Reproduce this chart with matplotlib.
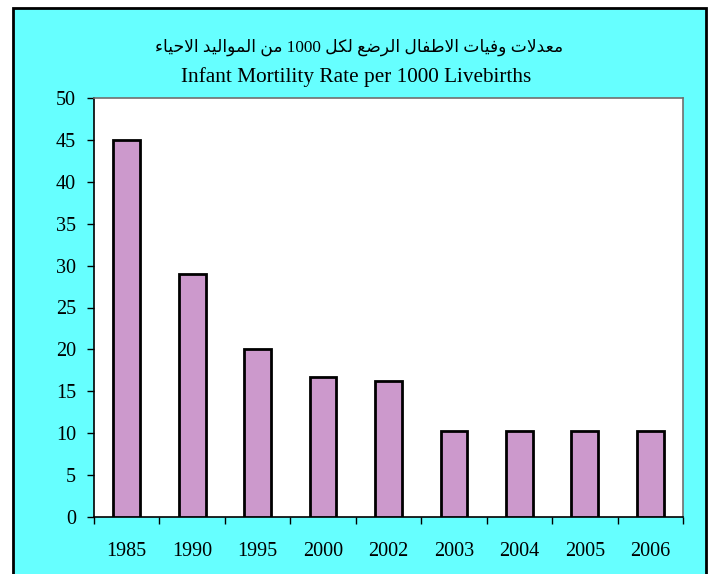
import matplotlib
matplotlib.use("Agg")
import matplotlib.pyplot as plt
from matplotlib.patches import Rectangle
from matplotlib.ticker import FixedLocator, NullFormatter

# ---------------- data ----------------
years = ["1985", "1990", "1995", "2000", "2002", "2003", "2004", "2005", "2006"]
rates = [45.0, 29.0, 20.0, 16.7, 16.2, 10.3, 10.3, 10.3, 10.3]
yticks = [0, 5, 10, 15, 20, 25, 30, 35, 40, 45, 50]
title_ar = "معدلات وفيات الاطفال الرضع لكل 1000 من المواليد الاحياء"
title_en = "Infant Mortility Rate per 1000 Livebirths"

# ------------- minimal Arabic shaping (presentation forms, visual order) -------------
FORMS = {  # isolated, final, initial, medial
    "\u0645": ("\uFEE1", "\uFEE2", "\uFEE3", "\uFEE4"),
    "\u0639": ("\uFEC9", "\uFECA", "\uFECB", "\uFECC"),
    "\u062F": ("\uFEA9", "\uFEAA", None, None),
    "\u0644": ("\uFEDD", "\uFEDE", "\uFEDF", "\uFEE0"),
    "\u0627": ("\uFE8D", "\uFE8E", None, None),
    "\u062A": ("\uFE95", "\uFE96", "\uFE97", "\uFE98"),
    "\u0648": ("\uFEED", "\uFEEE", None, None),
    "\u0641": ("\uFED1", "\uFED2", "\uFED3", "\uFED4"),
    "\u064A": ("\uFEF1", "\uFEF2", "\uFEF3", "\uFEF4"),
    "\u0637": ("\uFEC1", "\uFEC2", "\uFEC3", "\uFEC4"),
    "\u0631": ("\uFEAD", "\uFEAE", None, None),
    "\u0636": ("\uFEBD", "\uFEBE", "\uFEBF", "\uFEC0"),
    "\u0643": ("\uFED9", "\uFEDA", "\uFEDB", "\uFEDC"),
    "\u0646": ("\uFEE5", "\uFEE6", "\uFEE7", "\uFEE8"),
    "\u062D": ("\uFEA1", "\uFEA2", "\uFEA3", "\uFEA4"),
    "\u0621": ("\uFE80", None, None, None),
    "LA": ("\uFEFB", "\uFEFC", None, None),
}


def shape_word(word):
    units = []
    i = 0
    while i < len(word):
        if word[i] == "\u0644" and i + 1 < len(word) and word[i + 1] == "\u0627":
            units.append("LA")
            i += 2
        else:
            units.append(word[i])
            i += 1
    if not all(u in FORMS for u in units):
        return word
    out = []
    for k, u in enumerate(units):
        f = FORMS[u]
        prev_ok = k > 0 and FORMS[units[k - 1]][2] is not None
        next_ok = k + 1 < len(units) and FORMS[units[k + 1]][1] is not None
        can_left = f[2] is not None
        if prev_ok and next_ok and can_left:
            out.append(f[3])
        elif prev_ok and f[1] is not None:
            out.append(f[1])
        elif next_ok and can_left:
            out.append(f[2])
        else:
            out.append(f[0])
    return "".join(reversed(out))


def visual_arabic(text):
    words = text.split(" ")
    shaped = [w if w.isdigit() else shape_word(w) for w in words]
    return " ".join(reversed(shaped))


# ---------------- figure ----------------
W, H = 713, 574
fig = plt.figure(figsize=(W / 100, H / 100), dpi=100)
fig.patch.set_facecolor("white")

bg = Rectangle((13 / W, -0.02), (706 - 13) / W, 1 - 8 / H + 0.02,
               transform=fig.transFigure, facecolor="#66FFFF",
               edgecolor="black", linewidth=2.0, zorder=-10)
fig.add_artist(bg)

ax = fig.add_axes([94 / W, 1 - 517 / H, (683 - 94) / W, (517 - 98) / H])
ax.set_zorder(5)
ax.set_facecolor("white")

x = list(range(len(years)))
ax.bar(x, rates, width=0.41, color="#CC99CC", edgecolor="black",
       linewidth=2.0, zorder=3)

ax.set_xlim(-0.5, len(years) - 0.5)
ax.set_ylim(0, 50)
ax.set_yticks(yticks)

serif = ["Liberation Serif", "DejaVu Serif"]
ax.set_yticklabels([str(v) for v in yticks], fontfamily=serif, fontsize=14.5)
ax.set_xticks(x)
ax.set_xticklabels(years, fontfamily=serif, fontsize=14.5)
ax.xaxis.set_minor_locator(FixedLocator([i - 0.5 for i in range(len(years) + 1)]))
ax.xaxis.set_minor_formatter(NullFormatter())
ax.tick_params(axis="x", which="major", length=0, pad=18, colors="black")
ax.tick_params(axis="x", which="minor", length=5, width=1, direction="out")
ax.tick_params(axis="y", length=5, width=1, direction="out", pad=8)

for s in ["left", "bottom"]:
    ax.spines[s].set_color("black")
    ax.spines[s].set_linewidth(1.2)
for s in ["top", "right"]:
    ax.spines[s].set_color("#707070")
    ax.spines[s].set_linewidth(1.2)

fig.text(0.5035, 1 - 47 / H, visual_arabic(title_ar), ha="center", va="center",
         fontsize=12.3, family=["Liberation Serif", "DejaVu Sans"], zorder=10)
fig.text(0.4995, 1 - 77 / H, title_en, ha="center", va="center",
         fontsize=15.3, family=serif, zorder=10)

fig.savefig("out.png", dpi=100, facecolor=fig.get_facecolor())
